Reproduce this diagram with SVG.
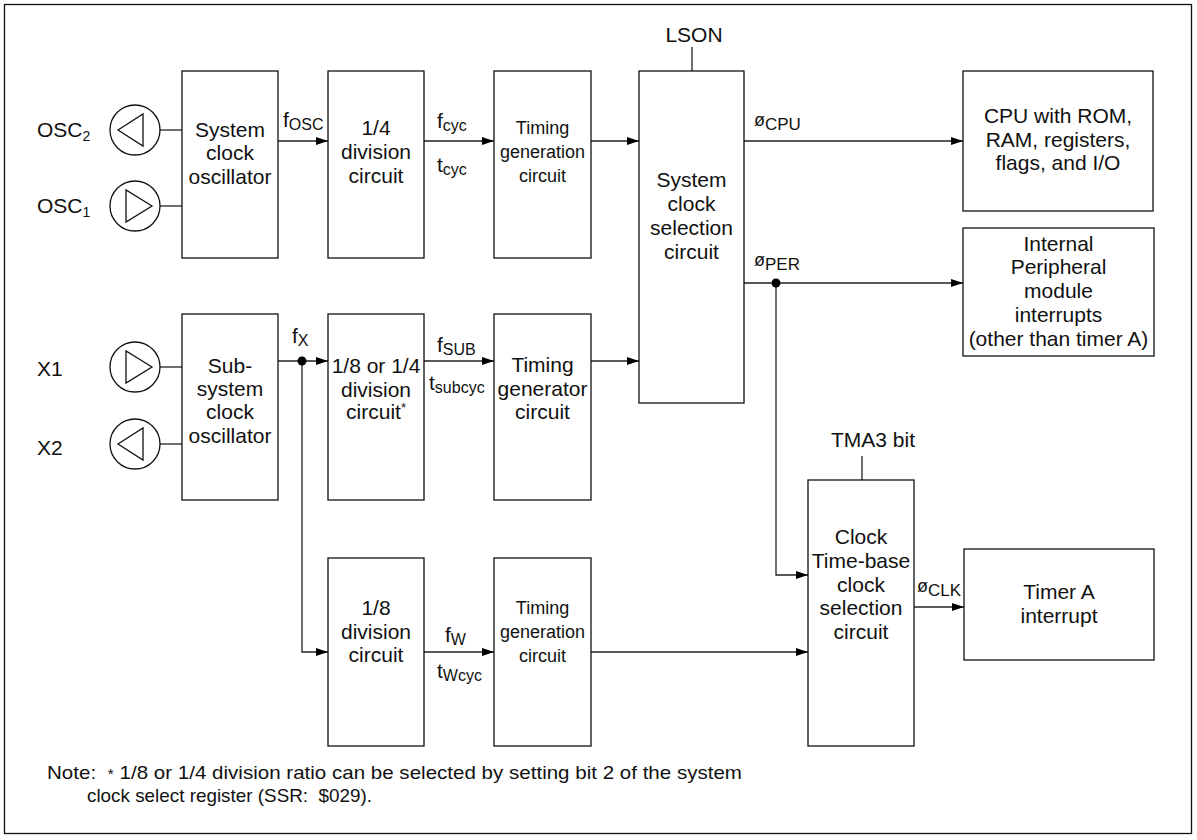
<svg xmlns="http://www.w3.org/2000/svg" width="1197" height="840" viewBox="0 0 1197 840">
<defs>
<marker id="ah" markerWidth="12" markerHeight="8" refX="12" refY="4" orient="auto" markerUnits="userSpaceOnUse">
<path d="M0,0 L12,4 L0,8 Z" fill="#000"/>
</marker>
<style>
text{font-family:"Liberation Sans",Arial,sans-serif;fill:#111;}
.t{font-size:21px;text-anchor:middle;}
.s{font-size:18px;text-anchor:middle;}
.l{font-size:21px;}
.box{fill:#fff;stroke:#111;stroke-width:1.3;}
.w{fill:none;stroke:#222;stroke-width:1.3;}
.c{fill:#fff;stroke:#111;stroke-width:1.3;}
.tri{fill:none;stroke:#111;stroke-width:1.3;}
.ar{fill:none;stroke:#222;stroke-width:1.3;marker-end:url(#ah);}
.dot{fill:#000;}
.sub{font-size:16px;}
</style>
</defs>
<rect x="0" y="0" width="1197" height="840" fill="#fff"/>
<rect x="4.5" y="4.5" width="1187" height="829" fill="none" stroke="#111" stroke-width="1.3"/>

<g id="connectors">
<line class="w" x1="160" y1="130" x2="182" y2="130"/>
<line class="w" x1="160" y1="206" x2="182" y2="206"/>
<line class="w" x1="160" y1="367" x2="182" y2="367"/>
<line class="w" x1="160" y1="444" x2="182" y2="444"/>
<line class="ar" x1="278" y1="141" x2="328" y2="141"/>
<line class="ar" x1="424" y1="141" x2="494" y2="141"/>
<line class="ar" x1="591" y1="141" x2="639" y2="141"/>
<line class="ar" x1="744" y1="141" x2="963" y2="141"/>
<line class="ar" x1="744" y1="283" x2="963" y2="283"/>
<line class="ar" x1="278" y1="361" x2="328" y2="361"/>
<line class="ar" x1="424" y1="361" x2="494" y2="361"/>
<line class="ar" x1="591" y1="361" x2="639" y2="361"/>
<polyline class="ar" points="302,361 302,652 328,652"/>
<line class="ar" x1="424" y1="652" x2="494" y2="652"/>
<line class="ar" x1="591" y1="652" x2="808" y2="652"/>
<polyline class="ar" points="776,283 776,575 808,575"/>
<line class="ar" x1="914" y1="607" x2="964" y2="607"/>
<line class="w" x1="692" y1="47" x2="692" y2="71"/>
<line class="w" x1="862" y1="456" x2="862" y2="480"/>
<circle class="dot" cx="302" cy="361" r="4.5"/>
<circle class="dot" cx="776" cy="283" r="4.5"/>
</g>

<g id="osc2">
<text class="l" x="37" y="137">OSC<tspan font-size="14" dy="4">2</tspan></text>
<circle class="c" cx="135" cy="130" r="25"/>
<polygon class="tri" points="118,130 143,114 143,146"/>
</g>
<g id="osc1">
<text class="l" x="37" y="213">OSC<tspan font-size="14" dy="4">1</tspan></text>
<circle class="c" cx="135" cy="206" r="25"/>
<polygon class="tri" points="152,206 126,190 126,222"/>
</g>
<g id="x1">
<text class="l" x="37" y="376">X1</text>
<circle class="c" cx="135" cy="367" r="25"/>
<polygon class="tri" points="152,367 126,351 126,383"/>
</g>
<g id="x2">
<text class="l" x="37" y="455">X2</text>
<circle class="c" cx="135" cy="444" r="25"/>
<polygon class="tri" points="118,444 143,428 143,460"/>
</g>

<g id="sys-osc">
<rect class="box" x="182" y="71" width="96" height="187"/>
<text class="t"><tspan x="230" y="137">System</tspan><tspan x="230" y="160">clock</tspan><tspan x="230" y="184">oscillator</tspan></text>
</g>
<g id="div4">
<rect class="box" x="328" y="71" width="96" height="187"/>
<text class="t"><tspan x="376" y="135">1/4</tspan><tspan x="376" y="159">division</tspan><tspan x="376" y="183">circuit</tspan></text>
</g>
<g id="timing1">
<rect class="box" x="494" y="71" width="97" height="187"/>
<text class="s"><tspan x="542.5" y="134">Timing</tspan><tspan x="542.5" y="158">generation</tspan><tspan x="542.5" y="182">circuit</tspan></text>
</g>
<g id="sys-sel">
<rect class="box" x="639" y="71" width="105" height="332"/>
<text class="t"><tspan x="691.5" y="187">System</tspan><tspan x="691.5" y="211">clock</tspan><tspan x="691.5" y="235">selection</tspan><tspan x="691.5" y="259">circuit</tspan></text>
</g>
<text class="t" x="694" y="42">LSON</text>
<g id="cpu">
<rect class="box" x="963" y="71" width="190" height="140"/>
<text class="t"><tspan x="1058" y="123">CPU with ROM,</tspan><tspan x="1058" y="147">RAM, registers,</tspan><tspan x="1058" y="170">flags, and I/O</tspan></text>
</g>
<g id="periph">
<rect class="box" x="963" y="228" width="191" height="128"/>
<text class="t"><tspan x="1058.5" y="251">Internal</tspan><tspan x="1058.5" y="274">Peripheral</tspan><tspan x="1058.5" y="298">module</tspan><tspan x="1058.5" y="322">interrupts</tspan><tspan x="1058.5" y="346">(other than timer A)</tspan></text>
</g>
<g id="sub-osc">
<rect class="box" x="182" y="314" width="96" height="186"/>
<text class="t"><tspan x="230" y="373">Sub-</tspan><tspan x="230" y="396">system</tspan><tspan x="230" y="419">clock</tspan><tspan x="230" y="443">oscillator</tspan></text>
</g>
<g id="div84">
<rect class="box" x="328" y="314" width="96" height="186"/>
<text class="t"><tspan x="376" y="373">1/8 or 1/4</tspan><tspan x="376" y="397">division</tspan><tspan x="376" y="419">circuit<tspan font-size="13" dy="-7">*</tspan></tspan></text>
</g>
<g id="timing2">
<rect class="box" x="494" y="314" width="97" height="186"/>
<text class="t"><tspan x="542.5" y="372">Timing</tspan><tspan x="542.5" y="396">generator</tspan><tspan x="542.5" y="419">circuit</tspan></text>
</g>
<g id="div8">
<rect class="box" x="328" y="558" width="96" height="188"/>
<text class="t"><tspan x="376" y="615">1/8</tspan><tspan x="376" y="639">division</tspan><tspan x="376" y="662">circuit</tspan></text>
</g>
<g id="timing3">
<rect class="box" x="494" y="558" width="97" height="188"/>
<text class="s"><tspan x="542.5" y="614">Timing</tspan><tspan x="542.5" y="638">generation</tspan><tspan x="542.5" y="662">circuit</tspan></text>
</g>
<g id="clk-sel">
<rect class="box" x="808" y="480" width="106" height="266"/>
<text class="t"><tspan x="861" y="544">Clock</tspan><tspan x="861" y="568">Time-base</tspan><tspan x="861" y="592">clock</tspan><tspan x="861" y="615">selection</tspan><tspan x="861" y="639">circuit</tspan></text>
</g>
<text class="t" x="873" y="447">TMA3 bit</text>
<g id="timera">
<rect class="box" x="964" y="549" width="190" height="111"/>
<text class="t"><tspan x="1059" y="599">Timer A</tspan><tspan x="1059" y="623">interrupt</tspan></text>
</g>

<g id="labels">
<text class="l" x="283" y="127">f<tspan class="sub" dy="3">OSC</tspan></text>
<text class="l" x="437" y="128">f<tspan class="sub" dy="3">cyc</tspan></text>
<text class="l" x="437" y="172">t<tspan class="sub" dy="3">cyc</tspan></text>
<text class="l" x="437" y="352">f<tspan class="sub" dy="3">SUB</tspan></text>
<text class="l" x="429" y="390">t<tspan class="sub" dy="3">subcyc</tspan></text>
<text class="l" x="292" y="343">f<tspan class="sub" dy="3">X</tspan></text>
<text class="l" x="445" y="642">f<tspan class="sub" dy="3">W</tspan></text>
<text class="l" x="437" y="678">t<tspan class="sub" dy="3">Wcyc</tspan></text>
<text x="754" y="126" font-size="18">ø<tspan font-size="17" dy="4">CPU</tspan></text>
<text x="754" y="266" font-size="18">ø<tspan font-size="17" dy="4">PER</tspan></text>
<text x="917" y="592" font-size="18">ø<tspan font-size="17" dy="4">CLK</tspan></text>
</g>

<g id="note">
<text x="47" y="779" font-size="19" textLength="695" lengthAdjust="spacingAndGlyphs">Note:&#160; <tspan font-size="15">*</tspan> 1/8 or 1/4 division ratio can be selected by setting bit 2 of the system</text>
<text x="87" y="802" font-size="19" textLength="285" lengthAdjust="spacingAndGlyphs">clock select register (SSR:&#160; $029).</text>
</g>
</svg>
